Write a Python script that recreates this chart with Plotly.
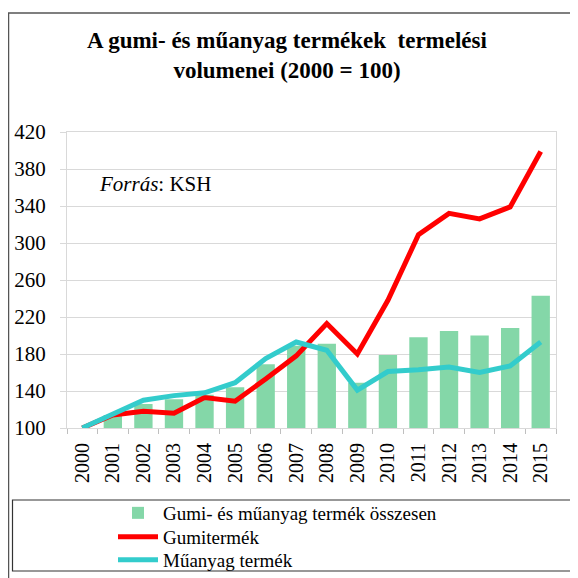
import plotly.graph_objects as go

years = [str(y) for y in range(2000, 2016)]
total = [100, 114, 126, 131, 136, 144, 169, 189, 191, 149, 179, 198, 205, 200, 208, 243]
rubber = [100, 114, 118, 116, 133, 129, 153, 178, 213, 180, 238, 309, 332, 326, 339, 399]
plastic = [100, 115, 130, 135, 138, 149, 175, 193, 184, 141, 161, 163, 166, 160, 167, 193]

names = ["Gumi- és műanyag termék összesen", "Gumitermék", "Műanyag termék"]
colors = ["#84D7A8", "#FF0000", "#33CCCC"]

# the page body adds an 8px offset; the figure is sized so it fills the window
OFF = 8
W, H = 570, 570
L, R, T, B = 67 - OFF, 22, 132 - OFF, 150
pw, ph = W - L - R, H - T - B


def px(x):  # screenshot x -> paper
    return (x - OFF - L) / pw


def py(y):  # screenshot y -> paper
    return (H - B - (y - OFF)) / ph


SERIF = "Liberation Serif"

fig = go.Figure()
fig.add_trace(go.Bar(x=years, y=total, name=names[0], legend="legend",
                     marker=dict(color=colors[0], line=dict(width=0))))
fig.add_trace(go.Scatter(x=years, y=rubber, name=names[1], mode="lines", legend="legend2",
                         line=dict(color=colors[1], width=5)))
fig.add_trace(go.Scatter(x=years, y=plastic, name=names[2], mode="lines", legend="legend3",
                         line=dict(color=colors[2], width=5)))


def leg(yc):
    return dict(
        xref="container", yref="container",
        x=(113 - OFF) / W, xanchor="left",
        y=1 - (yc - OFF) / H, yanchor="middle",
        font=dict(family=SERIF, size=19, color="black"),
        bgcolor="rgba(0,0,0,0)",
        itemwidth=40,
    )


fig.update_layout(
    width=W, height=H,
    margin=dict(l=L, r=R, t=T, b=B, autoexpand=False),
    paper_bgcolor="white", plot_bgcolor="white",
    font=dict(family=SERIF, size=18, color="black"),
    bargap=0.4,
    showlegend=True,
    title=dict(
        text="<b>A gumi- és műanyag termékek  termelési<br>volumenei (2000 = 100)</b>",
        font=dict(family=SERIF, size=23, color="black"),
        x=(287 - OFF) / W, xref="container", xanchor="center",
        y=1 - (48 - OFF) / H, yref="container", yanchor="top",
    ),
    legend=leg(513),
    legend2=leg(537),
    legend3=leg(560),
    xaxis=dict(
        type="category",
        tickangle=-90,
        tickson="boundaries",
        ticks="outside", ticklen=5, tickcolor="#BFBFBF",
        showline=True, linecolor="#D9D9D9", linewidth=1, mirror=True,
        showgrid=False,
        tickfont=dict(family=SERIF, size=20, color="black"),
        ticklabelstandoff=6,
    ),
    yaxis=dict(
        range=[100, 420], dtick=40, tick0=100,
        ticks="outside", ticklen=6, tickcolor="#D9D9D9",
        showline=True, linecolor="#D9D9D9", linewidth=1, mirror=True,
        showgrid=True, gridcolor="#D9D9D9", gridwidth=1,
        zeroline=False,
        tickfont=dict(family=SERIF, size=21, color="black"),
        ticklabelstandoff=10,
    ),
)

fig.add_annotation(
    text="<i>Forrás</i>: KSH", xref="paper", yref="paper",
    x=px(97), y=py(184), xanchor="left", yanchor="middle",
    showarrow=False, font=dict(family=SERIF, size=21, color="black"),
)

# outer frame
fig.add_shape(type="rect", xref="paper", yref="paper",
              x0=px(8.5), x1=px(640), y0=py(13), y1=py(640),
              line=dict(color="#555555", width=1.5), fillcolor="rgba(0,0,0,0)", layer="above")
# legend frame
fig.add_shape(type="rect", xref="paper", yref="paper",
              x0=px(12.5), x1=px(640), y0=py(500), y1=py(571),
              line=dict(color="#333333", width=1.2), fillcolor="rgba(0,0,0,0)", layer="above")

fig.write_html("out.html")
